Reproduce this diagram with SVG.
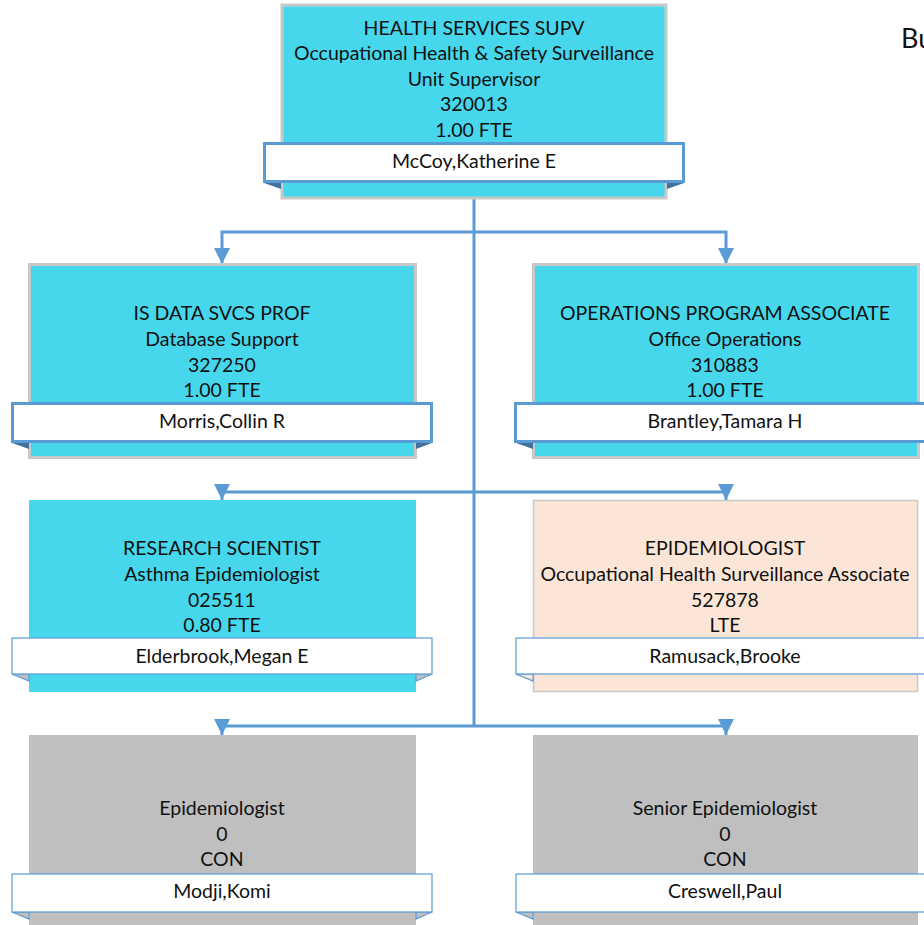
<svg xmlns="http://www.w3.org/2000/svg" width="924" height="925" viewBox="0 0 924 925">
<style>
.t{font-family:Lato,"Liberation Sans",sans-serif;font-size:19.5px;fill:#111;text-anchor:middle}
.cyan{fill:#46D7EC;stroke:#C8C8C8;stroke-width:3}
.peach{fill:#FBE5D6;stroke:#C8C8C8;stroke-width:1.5}
.grey{fill:#BFBFBF;stroke:none}
.nb{fill:#fff;stroke:#5B9BD5;stroke-width:3}
.nbt{fill:#fff;stroke:#5B9BD5;stroke-width:1.2}
.flap{fill:#41719C}
.flapt{fill:#BFBFBF;stroke:#5B9BD5;stroke-width:1.2}
.c{fill:none;stroke:#5B9BD5;stroke-width:3}
</style>
<defs>
<marker id="ar" markerUnits="userSpaceOnUse" markerWidth="16" markerHeight="16" refX="16" refY="8" orient="auto" viewBox="0 0 16 16">
<path d="M0,0 L16,8 L0,16 z" fill="#5B9BD5"/>
</marker>
</defs>
<rect width="924" height="925" fill="#fff"/>
<text x="901" y="48" style="font-family:Lato,'Liberation Sans',sans-serif;font-size:27px;fill:#111">Bu</text>
<g id="connectors">
<path class="c" d="M474,198 V727"/>
<path class="c" d="M474,232 H222 V264" marker-end="url(#ar)"/>
<path class="c" d="M474,232 H726 V264" marker-end="url(#ar)"/>
<path class="c" d="M474,492 H222 V500" marker-end="url(#ar)"/>
<path class="c" d="M474,492 H726 V500" marker-end="url(#ar)"/>
<path class="c" d="M474,726 H222 V735" marker-end="url(#ar)"/>
<path class="c" d="M474,726 H726 V735" marker-end="url(#ar)"/>
</g>
<g id="n1">
<rect class="cyan" x="282" y="5" width="384" height="193"/>
<polygon class="flap" points="264,183 281,183 281,189"/>
<polygon class="flap" points="684,183 667,183 667,189"/>
<rect class="nb" x="264.5" y="143.5" width="419" height="38"/>
<text class="t" x="474" y="35">HEALTH SERVICES SUPV</text>
<text class="t" x="474" y="60">Occupational Health &amp; Safety Surveillance</text>
<text class="t" x="474" y="86">Unit Supervisor</text>
<text class="t" x="474" y="111">320013</text>
<text class="t" x="474" y="137">1.00 FTE</text>
<text class="t" x="474" y="168">McCoy,Katherine E</text>
</g>
<g id="n2">
<rect class="cyan" x="29.5" y="264.5" width="386" height="193"/>
<polygon class="flap" points="12,443 29,443 29,449"/>
<polygon class="flap" points="432,443 416,443 416,449"/>
<rect class="nb" x="12.5" y="403.5" width="419" height="38"/>
<text class="t" x="222" y="320">IS DATA SVCS PROF</text>
<text class="t" x="222" y="346">Database Support</text>
<text class="t" x="222" y="372">327250</text>
<text class="t" x="222" y="397">1.00 FTE</text>
<text class="t" x="222" y="428">Morris,Collin R</text>
</g>
<g id="n3">
<rect class="cyan" x="533.5" y="264.5" width="385" height="193"/>
<polygon class="flap" points="516,443 533,443 533,449"/>
<rect class="nb" x="515.5" y="403.5" width="420" height="38"/>
<text class="t" x="725" y="320">OPERATIONS PROGRAM ASSOCIATE</text>
<text class="t" x="725" y="346">Office Operations</text>
<text class="t" x="725" y="372">310883</text>
<text class="t" x="725" y="397">1.00 FTE</text>
<text class="t" x="725" y="428">Brantley,Tamara H</text>
</g>
<g id="n4">
<rect x="29" y="500" width="387" height="192" fill="#46D7EC"/>
<polygon class="flapt" points="12,674 29,674 29,681"/>
<polygon class="flapt" points="432,674 416,674 416,681"/>
<rect class="nbt" x="12" y="638" width="420" height="36"/>
<text class="t" x="222" y="555">RESEARCH SCIENTIST</text>
<text class="t" x="222" y="581">Asthma Epidemiologist</text>
<text class="t" x="222" y="607">025511</text>
<text class="t" x="222" y="632">0.80 FTE</text>
<text class="t" x="222" y="663">Elderbrook,Megan E</text>
</g>
<g id="n5">
<rect class="peach" x="533.5" y="500.5" width="384" height="191"/>
<polygon class="flapt" points="516,674 533,674 533,681" style="fill:#FBE5D6"/>
<rect class="nbt" x="516" y="638" width="420" height="36"/>
<text class="t" x="725" y="555">EPIDEMIOLOGIST</text>
<text class="t" x="725" y="581">Occupational Health Surveillance Associate</text>
<text class="t" x="725" y="607">527878</text>
<text class="t" x="725" y="632">LTE</text>
<text class="t" x="725" y="663">Ramusack,Brooke</text>
</g>
<g id="n6">
<rect class="grey" x="29" y="735" width="387" height="195"/>
<polygon class="flapt" points="12,912 29,912 29,919"/>
<polygon class="flapt" points="432,912 416,912 416,919"/>
<rect class="nbt" x="12" y="874" width="420" height="38"/>
<text class="t" x="222" y="815">Epidemiologist</text>
<text class="t" x="222" y="841">0</text>
<text class="t" x="222" y="866">CON</text>
<text class="t" x="222" y="898">Modji,Komi</text>
</g>
<g id="n7">
<rect class="grey" x="533" y="735" width="385" height="195"/>
<polygon class="flapt" points="516,912 533,912 533,919"/>
<rect class="nbt" x="516" y="874" width="420" height="38"/>
<text class="t" x="725" y="815">Senior Epidemiologist</text>
<text class="t" x="725" y="841">0</text>
<text class="t" x="725" y="866">CON</text>
<text class="t" x="725" y="898">Creswell,Paul</text>
</g>
</svg>
